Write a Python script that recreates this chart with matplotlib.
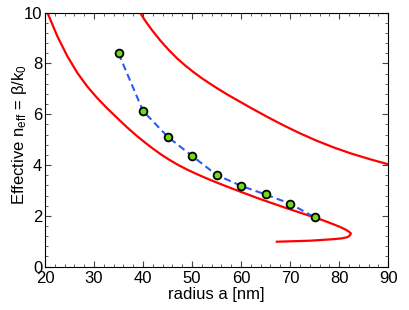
import matplotlib
matplotlib.use("Agg")
import matplotlib.pyplot as plt
from matplotlib.ticker import MultipleLocator

plt.rcParams['font.family'] = ['Liberation Sans', 'DejaVu Sans']
plt.rcParams['mathtext.default'] = 'regular'

# simulated points
radius = [35, 40, 45, 50, 55, 60, 65, 70, 75]
n_eff = [8.40, 6.13, 5.12, 4.36, 3.61, 3.18, 2.84, 2.48, 1.94]

# red curve 1 (folds back near 82 nm)
c1_x = [20.5, 22.5, 24.55, 26.6, 28.6, 30.7, 32.7, 34.75, 36.8, 38.7, 40.4, 42.1,
        43.8, 45.5, 47.2, 48.9, 50.6, 52.3, 54.0, 55.7, 58.0, 60.0, 63.9, 66.6,
        69.3, 72.1, 74.96, 76.9, 78.8, 80.2, 81.2, 81.9, 82.4, 82.2, 81.7, 80.5,
        78.8, 76.5, 74.1, 70.7, 67.3]
c1_y = [10.0, 9.08, 8.29, 7.63, 7.10, 6.63, 6.23, 5.85, 5.475, 5.155, 4.886, 4.635,
        4.40, 4.19, 4.00, 3.83, 3.676, 3.53, 3.393, 3.26, 3.087, 2.94, 2.66, 2.48,
        2.30, 2.12, 1.94, 1.81, 1.67, 1.56, 1.47, 1.39, 1.31, 1.23, 1.16, 1.11,
        1.08, 1.05, 1.02, 1.00, 0.98]

# red curve 2
c2_x = [39.4, 40.6, 41.8, 43.5, 45.2, 46.9, 48.6, 50.3, 52.0, 53.7, 55.4, 57.1,
        58.8, 62.1, 65.4, 68.7, 72.0, 75.4, 78.8, 82.2, 86.1, 90.0]
c2_y = [10.0, 9.64, 9.32, 8.91, 8.54, 8.21, 7.92, 7.66, 7.42, 7.20, 6.99, 6.79,
        6.60, 6.24, 5.89, 5.56, 5.25, 4.96, 4.70, 4.47, 4.24, 4.03]

fig = plt.figure(figsize=(4.09, 3.10), dpi=100)
ax = fig.add_axes([0.110, 0.140, 0.839, 0.819])

ax.plot(c1_x, c1_y, color="#ff0000", lw=1.6, zorder=2)
ax.plot(c2_x, c2_y, color="#ff0000", lw=1.6, zorder=2)
ax.plot(radius, n_eff, color="#2b5bf0", lw=1.5, ls=(0, (3.4, 2.0)), zorder=3)
ax.plot(radius, n_eff, ls="none", marker="o", ms=5.6, mfc="#6fdc1a",
        mec="black", mew=1.3, zorder=4)

ax.set_xlim(20, 90)
ax.set_ylim(0, 10)
ax.xaxis.set_major_locator(MultipleLocator(10))
ax.xaxis.set_minor_locator(MultipleLocator(2))
ax.yaxis.set_major_locator(MultipleLocator(2))
ax.yaxis.set_minor_locator(MultipleLocator(0.4))
ax.tick_params(which="both", direction="in", top=True, right=True,
               labelsize=12, color="#444444")
ax.tick_params(which="major", length=4, width=0.8)
ax.tick_params(which="minor", length=2.5, width=0.6)
ax.tick_params(axis="x", which="major", pad=3)
ax.tick_params(axis="y", which="major", pad=2)
for s in ax.spines.values():
    s.set_linewidth(0.8)

ax.set_xlabel("radius a [nm]", fontsize=12, labelpad=1)
ax.set_ylabel("Effective n$_{eff}$ = β/k$_0$", fontsize=12)
ax.yaxis.set_label_coords(-0.046, 0.52)

fig.savefig("out.png", dpi=100)
